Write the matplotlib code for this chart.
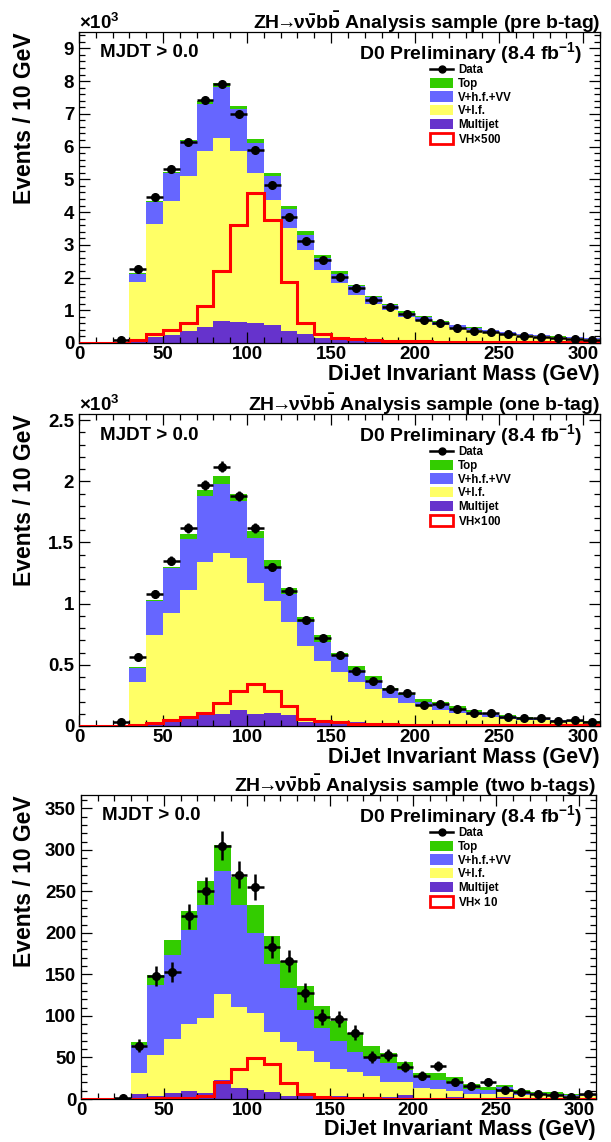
import numpy as np
import matplotlib
matplotlib.use("Agg")
import matplotlib.pyplot as plt
from matplotlib.lines import Line2D
from matplotlib.patches import Patch
from matplotlib.ticker import MultipleLocator

plt.rcParams["font.family"] = ["Liberation Sans", "DejaVu Sans"]
plt.rcParams["font.weight"] = "bold"
plt.rcParams["axes.labelweight"] = "bold"
plt.rcParams["mathtext.fontset"] = "custom"
plt.rcParams["mathtext.rm"] = "Liberation Sans:bold"
plt.rcParams["mathtext.bf"] = "Liberation Sans:bold"
plt.rcParams["mathtext.it"] = "Liberation Sans:bold"
plt.rcParams["mathtext.fallback"] = "stixsans"

# 10 GeV bins, 0 - 310 GeV
edges = np.arange(0, 320, 10)
centers = edges[:-1] + 5

# --- pre b-tag (in units of 10^3 events) ---
mj1 = [0, 0, 0, .13, .18, .25, .37, .48, .66, .64, .60, .54, .36, .28, .15, .12, .10, .09, .07, .06,
       .05, .05, .04, .04, .03, .03, .03, .02, .02, .02, .02]
vlf1 = [0, 0, .01, 1.72, 3.46, 4.08, 4.72, 5.40, 5.60, 5.24, 4.59, 3.83, 3.15, 2.57, 2.09, 1.71, 1.38,
        1.11, .93, .73, .61, .51, .42, .35, .31, .25, .20, .18, .15, .13, .11]
vhf1 = [0, 0, 0, .27, .68, .87, 1.08, 1.42, 1.55, 1.28, .93, .72, .58, .46, .35, .29, .25, .21, .15,
        .14, .14, .09, .08, .07, .05, .05, .04, .03, .02, .02, .02]
top1 = [0, 0, 0, .02, .02, .03, .04, .08, .12, .08, .11, .10, .08, .11, .10, .07, .05, .04, .04, .04,
        .03, .03, .02, .02, .02, .02, .01, .01, .01, .01, .01]
data1 = [0, 0, .10, 2.26, 4.45, 5.32, 6.14, 7.43, 7.90, 7.01, 5.90, 4.82, 3.85, 3.13, 2.54, 2.01, 1.67,
         1.30, 1.10, .90, .71, .61, .46, .38, .34, .28, .20, .18, .15, .13, .10]
vh1 = [0, 0, 0, .10, .26, .40, .60, 1.12, 2.19, 3.59, 4.58, 3.76, 1.86, .62, .28, .16, .12, .10, .07,
       .06, .05, .04, .04, .03, .03, .03, .02, .02, .02, .02, .02]

# --- one b-tag (in units of 10^3 events) ---
mj2 = [0, 0, 0, .02, .03, .05, .07, .11, .10, .13, .10, .11, .09, .03, .04, .03, .03, .02, .02, .02,
       .02, .01, .01, .01, .01, .01, .01, .01, .005, .005, .005]
vlf2 = [0, 0, .005, .34, .71, .87, 1.04, 1.23, 1.31, 1.24, 1.07, .91, .76, .62, .49, .41, .33, .28,
        .21, .17, .14, .12, .10, .08, .06, .05, .04, .035, .035, .03, .025]
vhf2 = [0, 0, 0, .11, .28, .37, .42, .54, .57, .47, .37, .28, .23, .20, .16, .13, .10, .08, .07, .06,
        .04, .05, .03, .025, .03, .02, .015, .015, .005, .005, .005]
top2 = [0, 0, 0, .01, .01, .01, .04, .05, .06, .06, .05, .06, .05, .04, .05, .03, .03, .03, .01, .02,
        .02, .02, .02, .015, .01, .01, .005, .005, .005, .005, .005]
data2 = [0, 0, .03, .56, 1.08, 1.35, 1.62, 1.97, 2.12, 1.88, 1.62, 1.30, 1.10, .87, .72, .58, .45,
         .37, .30, .27, .17, .18, .14, .11, .11, .07, .065, .065, .04, .045, .03]
vh2 = [0, 0, 0, .01, .025, .05, .07, .11, .19, .29, .34, .29, .16, .06, .04, .03, .02, .02, .015,
       .01, .01, .01, .01, .01, .01, .005, .005, .005, .005, .005, .005]

# --- two b-tags (events) ---
mj3 = [0, 0, 0, 5.6, 3.6, 7.6, 9.6, 7.6, 23, 13.5, 11, 8, 4, 4, 4, 4, 2.5, 2, 2, 5, 1.5, 1.5, 2, 1,
       1, 2, 1, 1, .5, .5, .5]
vlf3 = [0, 0, .5, 26, 49.4, 64.4, 80.4, 89.4, 103, 97.5, 92, 73, 65, 54, 40, 32, 30.5, 26, 18, 16,
        11.5, 10.5, 8, 5, 4.6, 6, 4, 4, 3.5, 3.1, 3.1]
vhf3 = [0, 0, 0, 33.5, 84, 101, 113, 136, 149, 122, 97, 82, 65, 49, 41, 34, 24, 22, 23, 14, 13, 11,
        9, 6, 5.4, 6, 4, 2, 2, .9, .9]
top3 = [0, 0, 0, 3, 12, 19, 23, 29, 31, 34, 33, 33, 32, 29, 27, 24, 23, 14, 12, 10, 5, 8, 7, 6, 4, 3,
        2, 2, 2, 1.5, 1.5]
data3 = [0, 0, 1, 64, 148, 153, 220, 251, 305, 270, 255, 183, 166, 128, 99, 96, 80, 51, 53, 39, 28,
         40, 20, 16, 21, 11, 9, 6, 5, 3, 6]
vh3 = [0, 0, 0, .5, 1, 1.2, 1.6, 4, 20, 36, 49, 42, 19, 6, 2, 1.5, 1, .8, .6, .5, .4, .4, .3, .3, .3,
       .2, .2, .2, .2, .2, .2]

panels = [
    dict(mj=mj1, vlf=vlf1, vhf=vhf1, top=top1, data=data1, vh=vh1, scale=1000.0,
         tag="pre b-tag", vhlabel="VH$\\times$500", ymax=9.5, major=1, minor=0.2,
         rect=(79, 32, 600, 343), mult=True, xlab_off=21),
    dict(mj=mj2, vlf=vlf2, vhf=vhf2, top=top2, data=data2, vh=vh2, scale=1000.0,
         tag="one b-tag", vhlabel="VH$\\times$100", ymax=2.55, major=0.5, minor=0.1,
         rect=(79, 414, 600, 726), mult=True, xlab_off=21),
    dict(mj=mj3, vlf=vlf3, vhf=vhf3, top=top3, data=data3, vh=vh3, scale=1.0,
         tag="two b-tags", vhlabel="VH$\\times$ 10", ymax=366, major=50, minor=10,
         rect=(81, 795, 596, 1099), mult=False, xlab_off=20),
]

c_top = "#33cc00"
c_vhf = "#6666ff"
c_vlf = "#ffff66"
c_mj = "#6633cc"
c_vh = "#ff0000"

W, H = 611, 1142
fig = plt.figure(figsize=(W / 100, H / 100), dpi=100)

for p in panels:
    x0, y0, x1, y1 = p["rect"]
    pw, ph = x1 - x0, y1 - y0
    ax = fig.add_axes([x0 / W, 1 - y1 / H, pw / W, ph / H])

    # stacked backgrounds, drawn bottom up
    layers = [(p["mj"], c_mj), (p["vlf"], c_vlf), (p["vhf"], c_vhf), (p["top"], c_top)]
    base = np.zeros(len(centers))
    for vals, col in layers:
        tot = base + np.array(vals)
        ax.stairs(tot, edges, baseline=base, fill=True, color=col, lw=0)
        base = tot

    # signal outline
    ax.stairs(p["vh"], edges, color=c_vh, lw=2.2, baseline=None, zorder=3)

    # data points with Poisson errors
    d = np.array(p["data"])
    sel = d > 0
    err = np.sqrt(d * p["scale"]) / p["scale"]
    ax.errorbar(centers[sel], d[sel], xerr=5, yerr=err[sel], fmt="o", color="black",
                ms=5.5, elinewidth=1.8, capsize=0, zorder=5)

    ax.set_xlim(0, 310)
    ax.set_ylim(0, p["ymax"])
    ax.xaxis.set_major_locator(MultipleLocator(50))
    ax.xaxis.set_minor_locator(MultipleLocator(10))
    ax.yaxis.set_major_locator(MultipleLocator(p["major"]))
    ax.yaxis.set_minor_locator(MultipleLocator(p["minor"]))
    ax.yaxis.set_major_formatter(plt.FuncFormatter(lambda v, pos: f"{v:g}"))
    ax.tick_params(which="both", direction="in", top=True, right=True, width=0.9,
                   labelsize=13.5)
    ax.tick_params(axis="x", pad=2)
    ax.tick_params(which="major", length=8)
    ax.tick_params(which="minor", length=4)
    for s in ax.spines.values():
        s.set_linewidth(0.9)

    ax.set_xlabel("DiJet Invariant Mass (GeV)", fontsize=15.5, loc="right")
    ax.xaxis.set_label_coords(1.0, -p["xlab_off"] / ph)
    ax.set_ylabel("Events / 10 GeV", fontsize=16.5, loc="top")
    ax.yaxis.set_label_coords(-(x0 - 36) / pw, 1.0)

    ax.text(1.0, 1 + 3 / ph,
            "ZH$\\!\\!\\rightarrow\\!\\!$\u03bd$\\bar{\\nu}$b$\\bar{\\mathrm{b}}$ Analysis sample (%s)"
            % p["tag"],
            transform=ax.transAxes, ha="right", va="baseline", fontsize=14)
    if p["mult"]:
        ax.text(0.0, 1 + 3 / ph, "$\\times$10$^{3}$", transform=ax.transAxes,
                ha="left", va="baseline", fontsize=13.5)
    ax.text(21 / pw, 1 - 21 / ph, "MJDT > 0.0", transform=ax.transAxes,
            ha="left", va="center", fontsize=13.5)
    ax.text((582 - x0) / pw, 1 - 21 / ph, "D0 Preliminary (8.4 fb$^{-1}$)",
            transform=ax.transAxes, ha="right", va="center", fontsize=14)

    handles = [
        Line2D([], [], color="black", marker="o", ms=5, lw=1.8),
        Patch(facecolor=c_top, edgecolor="none"),
        Patch(facecolor=c_vhf, edgecolor="none"),
        Patch(facecolor=c_vlf, edgecolor="none"),
        Patch(facecolor=c_mj, edgecolor="none"),
        Patch(facecolor="white", edgecolor=c_vh, lw=2),
    ]
    labels = ["Data", "Top", "V+h.f.+VV", "V+l.f.", "Multijet", p["vhlabel"]]
    ax.legend(handles, labels, loc="upper left",
              bbox_to_anchor=((430 - x0) / pw, 1 - 32 / ph), frameon=False,
              fontsize=8.3, handlelength=2.0, handleheight=1.0, handletextpad=0.45,
              labelspacing=0.14, borderpad=0, borderaxespad=0)

fig.savefig("out.png", dpi=100)
